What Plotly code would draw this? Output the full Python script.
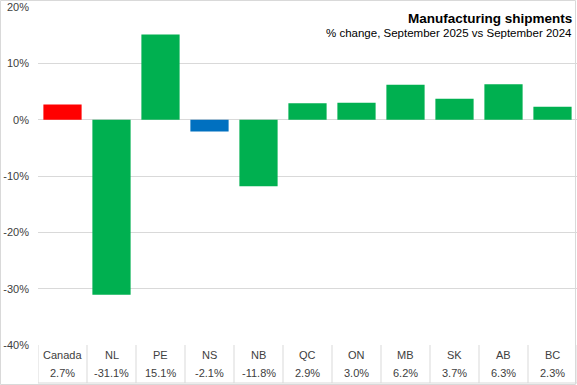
import plotly.graph_objects as go

categories = ["Canada", "NL", "PE", "NS", "NB", "QC", "ON", "MB", "SK", "AB", "BC"]
values = [2.7, -31.1, 15.1, -2.1, -11.8, 2.9, 3.0, 6.2, 3.7, 6.3, 2.3]
colors = ["#FF0000", "#00B050", "#00B050", "#0070C0", "#00B050", "#00B050",
          "#00B050", "#00B050", "#00B050", "#00B050", "#00B050"]
y_ticks = [-40, -30, -20, -10, 0, 10, 20]
y_tick_labels = ["-40%", "-30%", "-20%", "-10%", "0%", "10%", "20%"]
title = "Manufacturing shipments"
subtitle = "% change, September 2025 vs September 2024"

W, H = 577, 385
ML, MR, MT, MB = 38, 0, 7, 40
PH = H - MT - MB
PW = W - ML - MR
FONT = "Liberation Sans, Arial, sans-serif"
TXT = "#404040"
GRID = "#D9D9D9"

def py(px):
    return (H - MB - px) / PH

fig = go.Figure(go.Bar(
    x=list(range(len(categories))), y=values, marker_color=colors,
    marker_line_width=0, hoverinfo="skip"))

shapes = []
n = len(categories)
# data table bottom line
shapes.append(dict(type="line", xref="x", yref="paper", x0=-0.5, x1=n - 0.5,
                   y0=py(383), y1=py(383), line=dict(color=GRID, width=1)))
for i in range(n + 1):
    shapes.append(dict(type="line", xref="x", yref="paper", x0=i - 0.5, x1=i - 0.5,
                       y0=0, y1=py(383), line=dict(color=GRID, width=1)))
# chart border
shapes.append(dict(type="rect", xref="paper", yref="paper",
                   x0=-(ML - 0.5) / PW, x1=1 - 1.5 / PW,
                   y0=py(H - 0.5), y1=py(0.5), line=dict(color=GRID, width=1)))

annotations = []
for i, (c, v) in enumerate(zip(categories, values)):
    annotations.append(dict(x=i, y=py(355), xref="x", yref="paper", text=c,
                            yanchor="middle", showarrow=False,
                            font=dict(size=11, color=TXT, family=FONT)))
    annotations.append(dict(x=i, y=py(373), xref="x", yref="paper", text=f"{v:.1f}%",
                            yanchor="middle", showarrow=False,
                            font=dict(size=11, color=TXT, family=FONT)))
annotations.append(dict(x=1, y=py(18), xref="paper", yref="paper", text=f"<b>{title}</b>",
                        xanchor="right", yanchor="middle", xshift=-3, showarrow=False,
                        font=dict(size=13.5, color="#000000", family=FONT)))
annotations.append(dict(x=1, y=py(33), xref="paper", yref="paper", text=subtitle,
                        xanchor="right", yanchor="middle", xshift=-3, showarrow=False,
                        font=dict(size=11.5, color="#000000", family=FONT)))

fig.update_layout(
    width=W, height=H, margin=dict(l=ML, r=MR, t=MT, b=MB),
    paper_bgcolor="white", plot_bgcolor="white", showlegend=False,
    bargap=0.22, shapes=shapes, annotations=annotations,
    xaxis=dict(range=[-0.5, n - 0.5], showticklabels=False, showgrid=False,
               zeroline=False, showline=False, fixedrange=True),
    yaxis=dict(range=[-40, 20], tickvals=y_ticks, ticktext=y_tick_labels,
               showgrid=True, gridcolor=GRID, gridwidth=1, zeroline=True,
               zerolinecolor=GRID, zerolinewidth=1, showline=False,
               ticklabelstandoff=8, fixedrange=True,
               tickfont=dict(size=11, color=TXT, family=FONT)),
)
fig.write_html("out.html", config={"displayModeBar": False},
               post_script="document.body.style.margin='0';document.body.style.overflow='hidden';")
